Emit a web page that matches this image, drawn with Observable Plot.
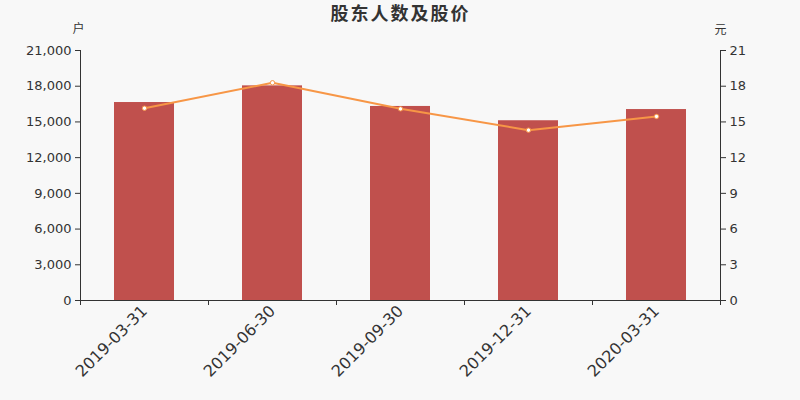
<!DOCTYPE html>
<html><head><meta charset="utf-8">
<script src="https://cdn.jsdelivr.net/npm/d3@7"></script>
<script src="https://cdn.jsdelivr.net/npm/@observablehq/plot@0.6"></script>
<style>
body{margin:0;background:#f8f8f8;}
#chart svg{background:#f8f8f8;display:block;}
</style></head>
<body><div id="chart"></div>
<script>
const title = "股东人数及股价";
const dates = ["2019-03-31","2019-06-30","2019-09-30","2019-12-31","2020-03-31"];
const holders = [16630, 18030, 16300, 15100, 16040];
const prices = [16.15, 18.29, 16.10, 14.31, 15.46];
const leftTicks = [0,3000,6000,9000,12000,15000,18000,21000];
const rightTicks = [0,3,6,9,12,15,18,21];
const leftUnit = "户";
const rightUnit = "元";

const ratio = 1000; // right axis maps price*1000 onto the count scale
const rows = dates.map((d,i)=>({date:d, holders:holders[i], price:prices[i]*ratio}));
const ink = "#333";
const halfStep = 64;

const chart = Plot.plot({
  width: 800, height: 400,
  marginTop: 50, marginBottom: 100, marginLeft: 80, marginRight: 80,
  style: {fontFamily: "DejaVu Sans, 'Noto Sans CJK SC', sans-serif", background: "#f8f8f8", color: ink},
  x: {domain: dates, paddingInner: 0.53, paddingOuter: 0.265, label: null},
  y: {domain: [0, 21000], label: null},
  marks: [
    Plot.barY(rows, {x: "date", y: "holders", fill: "#c0504d"}),
    Plot.ruleY([0], {stroke: ink, strokeWidth: 1}),
    Plot.ruleX([dates[0]], {dx: -halfStep, y1: 0, y2: 21000, stroke: ink}),
    Plot.ruleX([dates[dates.length-1]], {dx: halfStep, y1: 0, y2: 21000, stroke: ink}),
    Plot.axisY({anchor: "left", ticks: leftTicks, tickFormat: d3.format(","), tickSize: 5, tickPadding: 4, fontSize: 13, stroke: ink, fill: ink, label: null}),
    Plot.axisY({anchor: "right", ticks: rightTicks.map(v=>v*ratio), tickFormat: d => String(d/ratio), tickSize: 5, tickPadding: 4, fontSize: 13, stroke: ink, fill: ink, label: null}),
    Plot.axisX({tickFormat: () => "", tickSize: 5, dx: -halfStep, stroke: ink, label: null}),
    Plot.axisX({ticks: [dates[dates.length-1]], tickFormat: () => "", tickSize: 5, dx: halfStep, stroke: ink, label: null}),
    Plot.axisX({tickSize: 0, tickRotate: -45, fontSize: 16, tickPadding: 8, fill: ink, label: null}),
    Plot.line(rows, {x: "date", y: "price", stroke: "#f79646", strokeWidth: 2}),
    Plot.dot(rows, {x: "date", y: "price", r: 2.2, fill: "white", stroke: "#f79646", strokeWidth: 1}),
    Plot.text([title], {frameAnchor: "top", dy: -43, fontSize: 18, fontWeight: "bold", fill: ink, fontFamily: "'Noto Sans CJK SC', sans-serif", style: "letter-spacing:2px"}),
    Plot.text([leftUnit], {frameAnchor: "top-left", dy: -26, dx: -2, fontSize: 12, fill: ink, textAnchor: "middle", fontFamily: "'Noto Sans CJK SC', sans-serif"}),
    Plot.text([rightUnit], {frameAnchor: "top-right", dy: -25, fontSize: 12, fill: ink, textAnchor: "middle", fontFamily: "'Noto Sans CJK SC', sans-serif"})
  ]
});
chart.querySelectorAll("text").forEach(t => { if (t.textContent === title) t.style.letterSpacing = "2px"; });
document.getElementById("chart").append(chart);
</script></body></html>
